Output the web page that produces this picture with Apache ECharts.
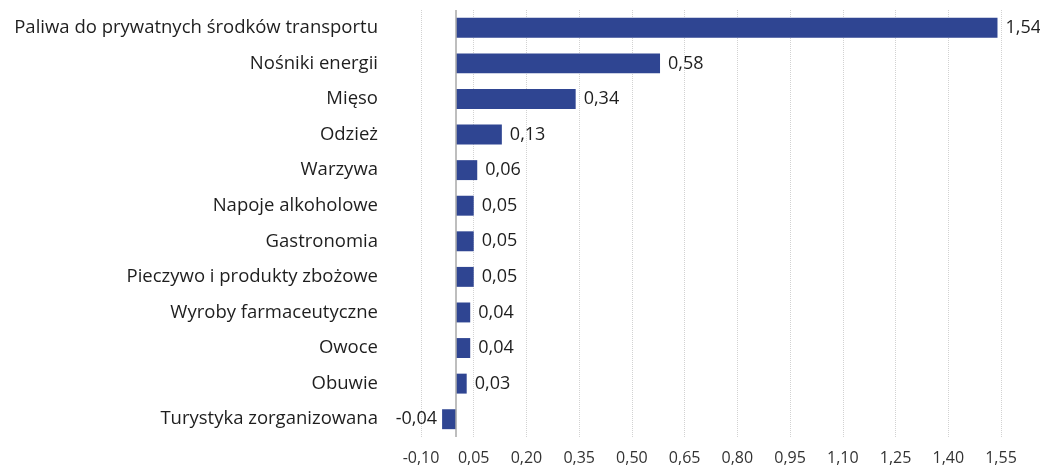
<!DOCTYPE html>
<html>
<head>
<meta charset="utf-8">
<script src="https://cdn.jsdelivr.net/npm/echarts@6/dist/echarts.min.js"></script>
<style>html,body{margin:0;padding:0;background:#fff}#c{width:1040px;height:466px}</style>
</head>
<body>
<div id="c"></div>
<script>
const categories = ["Paliwa do prywatnych środków transportu","Nośniki energii","Mięso","Odzież","Warzywa","Napoje alkoholowe","Gastronomia","Pieczywo i produkty zbożowe","Wyroby farmaceutyczne","Owoce","Obuwie","Turystyka zorganizowana"];
const values = [1.54,0.58,0.34,0.13,0.06,0.05,0.05,0.05,0.04,0.04,0.03,-0.04];
const tickValues = [-0.10,0.05,0.20,0.35,0.50,0.65,0.80,0.95,1.10,1.25,1.40,1.55];

const fmt = v => v.toFixed(2).replace('.', ',');
const FONT = 'Open Sans';
const chart = echarts.init(document.getElementById('c'), null, {renderer:'canvas'});
chart.setOption({
  animation:false,
  grid:{left:421,right:39,top:10,bottom:29,containLabel:false},
  xAxis:{
    type:'value', min:-0.10, max:1.55,
    axisLine:{show:false}, axisTick:{show:false, customValues:tickValues},
    axisLabel:{customValues:tickValues, formatter:v=>fmt(v), color:'#333', fontFamily:FONT, fontSize:16, margin:13},
    splitLine:{show:true, lineStyle:{color:'#d2d2d2', type:[1,1], width:1}}
  },
  yAxis:{
    type:'category', data:categories, inverse:true,
    axisLine:{show:false}, axisTick:{show:false},
    axisLabel:{color:'#1e1e1e', fontFamily:FONT, fontSize:18.5, margin:43}
  },
  series:[{
    type:'bar', barWidth:'56%',
    itemStyle:{color:'#2f4592'},
    data: values.map(v=>({value:v, label:{position: v<0?'left':'right', distance: v<0?5:8}})),
    label:{show:true, color:'#1e1e1e', fontFamily:FONT, fontSize:18, formatter:p=>fmt(p.value)},
    markLine:{silent:true, symbol:'none', label:{show:false}, lineStyle:{color:'#a8a8a8', type:'solid', width:1.5}, data:[{xAxis:0}]}
  }]
});
</script>
</body>
</html>
